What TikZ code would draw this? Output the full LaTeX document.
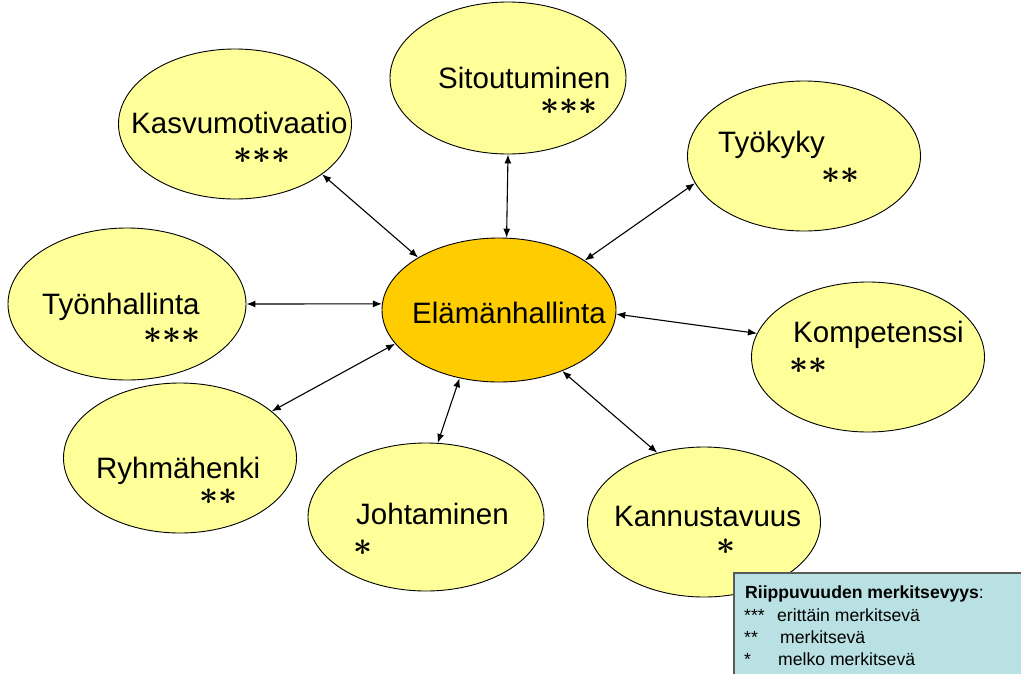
\RequirePackage{fix-cm}
\documentclass[tikz,border=0pt]{standalone}
\usepackage{fontspec}
\setmainfont{Liberation Sans}
\usetikzlibrary{shapes.geometric,arrows.meta}
\definecolor{lyellow}{RGB}{255,255,153}
\definecolor{gold}{RGB}{255,204,0}
\definecolor{legfill}{RGB}{185,224,226}
\definecolor{legdraw}{RGB}{90,90,90}
\tikzset{
  oval/.style={ellipse, draw=black, line width=0.9pt, fill=lyellow, inner sep=0pt,
    minimum width=233pt, minimum height=150pt},
  lbl/.style={anchor=base west, inner sep=0pt, font=\fontsize{29.5}{35}\selectfont},
  starlbl/.style={inner sep=0pt, font=\fontsize{33}{36}\selectfont\boldmath},
  legtxt/.style={anchor=base west, inner sep=0pt, font=\fontsize{17.6}{20}\selectfont},
  link/.style={line width=1.1pt, {Latex[length=9pt,width=7pt]}-{Latex[length=9pt,width=7pt]}}
}
\begin{document}
\begin{tikzpicture}[x=1pt,y=-1pt]
\useasboundingbox (0,0) rectangle (1021,673);
\clip (0,0) rectangle (1021,673);
% ellipses
\node[oval, minimum width=234pt, minimum height=144pt, fill=gold] (ctr) at (499,310) {};
\node[oval, minimum width=236pt, minimum height=152pt] (sit) at (508,78) {};
\node[oval] (kas) at (235,124) {};
\node[oval] (tyk) at (804,156) {};
\node[oval, minimum width=238pt, minimum height=152pt] (tyh) at (127,304) {};
\node[oval] (kom) at (868,357) {};
\node[oval] (ryh) at (180,458) {};
\node[oval, minimum width=236pt, minimum height=148pt] (joh) at (426,517) {};
\node[oval] (kan) at (704,522) {};
% labels
\node[lbl] (tctr) at (412,323) {Elämänhallinta};
\node[lbl] (tsit) at (438,88) {Sitoutuminen};
\node[starlbl] (ssit) at (569,107) {$\mathord{\ast}\mathord{\ast}\mathord{\ast}$};
\node[lbl] (tkas) at (131,133) {Kasvumotivaatio};
\node[starlbl] (skas) at (262,156) {$\mathord{\ast}\mathord{\ast}\mathord{\ast}$};
\node[lbl] (ttyk) at (718,152) {Työkyky};
\node[starlbl] (styk) at (840,176) {$\mathord{\ast}\mathord{\ast}$};
\node[lbl] (ttyh) at (42,314) {Työnhallinta};
\node[starlbl] (styh) at (172,336) {$\mathord{\ast}\mathord{\ast}\mathord{\ast}$};
\node[lbl] (tkom) at (793,342) {Kompetenssi};
\node[starlbl] (skom) at (808,366) {$\mathord{\ast}\mathord{\ast}$};
\node[lbl] (tryh) at (96,478) {Ryhmähenki};
\node[starlbl] (sryh) at (218,497) {$\mathord{\ast}\mathord{\ast}$};
\node[lbl] (tjoh) at (356,524) {Johtaminen};
\node[starlbl] (sjoh) at (363,548) {$\mathord{\ast}$};
\node[lbl] (tkan) at (614,526) {Kannustavuus};
\node[starlbl] (skan) at (726,547) {$\mathord{\ast}$};
% connectors
\draw[link] (kas.-30.3) -- (ctr.147.1);
\draw[link] (sit.-90) -- (ctr.84);
\draw[link] (tyk.194.7) -- (ctr.30);
\draw[link] (tyh.0) -- (ctr.177.6);
\draw[link] (kom.168.2) -- (ctr.-2);
\draw[link] (ryh.27.8) -- (ctr.198.9);
\draw[link] (joh.81.9) -- (ctr.240);
\draw[link] (kan.124.7) -- (ctr.-44.5);
% legend
\node[draw=legdraw, fill=legfill, line width=1.5pt, anchor=north west,
  minimum width=320pt, minimum height=130pt, inner sep=0pt] (leg) at (733,572) {};
\node[legtxt] (l1) at (745,598) {\textbf{Riippuvuuden merkitsevyys}:};
\node[legtxt] (l2a) at (744,621) {***};
\node[legtxt] (l2b) at (777,621) {erittäin merkitsevä};
\node[legtxt] (l3a) at (744,643) {**};
\node[legtxt] (l3b) at (780,643) {merkitsevä};
\node[legtxt] (l4a) at (744,665) {*};
\node[legtxt] (l4b) at (778,665) {melko merkitsevä};
\end{tikzpicture}
\end{document}
